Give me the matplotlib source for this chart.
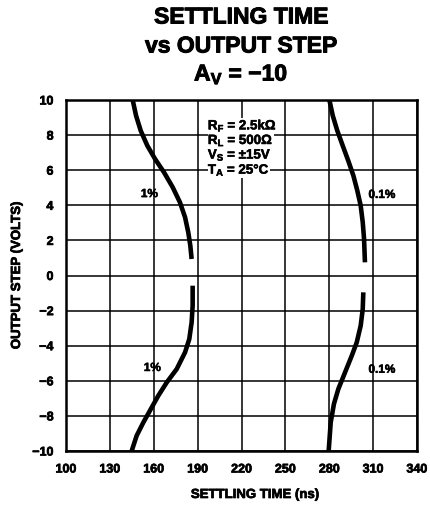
import matplotlib
matplotlib.use("Agg")
import matplotlib.pyplot as plt
import matplotlib.patheffects as pe

plt.rcParams['font.family'] = ['Liberation Sans', 'DejaVu Sans']
plt.rcParams['font.weight'] = 'bold'
plt.rcParams['mathtext.fontset'] = 'custom'
plt.rcParams['mathtext.rm'] = 'Liberation Sans:bold'
plt.rcParams['mathtext.bf'] = 'Liberation Sans:bold'
plt.rcParams['mathtext.it'] = 'Liberation Sans:bold'

# Data
x_ticks = [100, 130, 160, 190, 220, 250, 280, 310, 340]
y_ticks = [-10, -8, -6, -4, -2, 0, 2, 4, 6, 8, 10]

# 1% settling, positive step
t_1pct_pos = [145.6, 147.9, 151.1, 155.6, 160.9, 167.0, 173.0, 177.9, 181.4, 183.6, 185.0, 185.9]
v_1pct_pos = [10.0, 9.11, 8.25, 7.40, 6.64, 5.88, 5.02, 4.17, 3.32, 2.46, 1.70, 0.94]
# 1% settling, negative step
t_1pct_neg = [186.6, 186.6, 185.9, 184.3, 181.4, 175.7, 168.9, 163.1, 157.4, 152.9, 148.3, 144.9]
v_1pct_neg = [-0.58, -1.72, -2.67, -3.62, -4.38, -5.33, -6.09, -6.85, -7.70, -8.37, -9.13, -10.0]
# 0.1% settling, positive step
t_01pct_pos = [280.1, 282.4, 285.5, 289.2, 293.0, 296.5, 299.2, 301.5, 302.9, 303.8, 304.4]
v_01pct_pos = [10.0, 9.11, 8.25, 7.40, 6.54, 5.69, 4.83, 3.98, 3.03, 2.08, 0.75]
# 0.1% settling, negative step
t_01pct_neg = [303.3, 302.9, 301.5, 298.8, 295.4, 290.8, 286.2, 283.2, 281.0, 279.6]
v_01pct_neg = [-0.96, -1.91, -2.86, -3.81, -4.57, -5.52, -6.47, -7.32, -8.37, -10.0]

curve_labels = ['1%', '1%', '0.1%', '0.1%']
curve_label_x = [157, 159, 316, 316]
curve_label_y = [4.64, -5.27, 4.59, -5.37]

conditions = ['R$_\\mathbf{F}$ = 2.5k\u03a9', 'R$_\\mathbf{L}$ = 500\u03a9',
              'V$_\\mathbf{S}$ = \u00b115V', 'T$_\\mathbf{A}$ = 25\u00b0C']

heavy = [pe.withStroke(linewidth=0.7, foreground='black')]

fig = plt.figure(figsize=(4.30, 5.06), dpi=100)
ax = fig.add_axes([66/430, 1-452/506, (417-66)/430, (452-101)/506])

for t, v in [(t_1pct_pos, v_1pct_pos), (t_1pct_neg, v_1pct_neg),
             (t_01pct_pos, v_01pct_pos), (t_01pct_neg, v_01pct_neg)]:
    ax.plot(t, v, color='black', lw=3.3, solid_capstyle='butt',
            solid_joinstyle='round', zorder=3)

ax.set_xlim(100, 340)
ax.set_ylim(-10, 10)
ax.set_xticks(x_ticks)
ax.set_yticks(y_ticks)
ax.set_xticklabels([str(x) for x in x_ticks])
ax.set_yticklabels([str(y).replace('-', '\u2212') for y in y_ticks])
ax.tick_params(length=0, labelsize=9, pad=9)
for lab in ax.get_xticklabels() + ax.get_yticklabels():
    lab.set_fontweight('bold')
    lab.set_path_effects([pe.withStroke(linewidth=0.5, foreground='black')])
ax.grid(True, color='black', lw=1.1)
for s in ax.spines.values():
    s.set_linewidth(1.8)

ax.set_xlabel('SETTLING TIME (ns)', fontsize=9.5, fontweight='bold',
              path_effects=[pe.withStroke(linewidth=0.5, foreground='black')])
ax.xaxis.set_label_coords((255-66)/351, -(490-452)/351)
ax.set_ylabel('OUTPUT STEP (VOLTS)', fontsize=9.5, fontweight='bold',
              path_effects=[pe.withStroke(linewidth=0.5, foreground='black')])
ax.yaxis.set_label_coords(-(66-23)/351, 0.5)

for lbl, lx, ly in zip(curve_labels, curve_label_x, curve_label_y):
    ax.text(lx, ly, lbl, fontsize=8.5, fontweight='bold', ha='center', va='center',
            path_effects=[pe.withStroke(linewidth=0.4, foreground='black')])

for i, c in enumerate(conditions):
    ax.text(197, 8.52 - i * 0.83, c, fontsize=9.6, fontweight='bold',
            ha='left', va='center', zorder=4,
            bbox=dict(facecolor='white', edgecolor='none', pad=0.1),
            path_effects=[pe.withStroke(linewidth=0.4, foreground='black')])

fig.text(241/430, 1-18/506, 'SETTLING TIME', fontsize=16.5, fontweight='bold',
         ha='center', va='center', path_effects=heavy)
fig.text(241/430, 1-47/506, 'vs OUTPUT STEP', fontsize=16.5, fontweight='bold',
         ha='center', va='center', path_effects=heavy)
fig.text(241/430, 1-75/506, 'A$_\\mathbf{V}$ = \u221210', fontsize=16.5, fontweight='bold',
         ha='center', va='center', path_effects=heavy)

fig.savefig('out.png', dpi=100)
